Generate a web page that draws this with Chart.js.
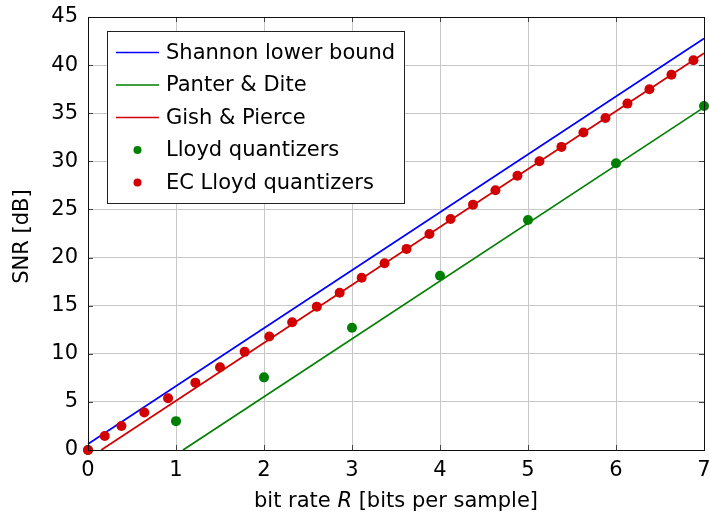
<!DOCTYPE html>
<html>
<head>
<meta charset="utf-8">
<script src="https://cdn.jsdelivr.net/npm/chart.js@4.4.1/dist/chart.umd.min.js"></script>
<style>
  html, body { margin: 0; padding: 0; background: #fff; }
  #wrap { width: 709px; height: 518px; position: relative; }
</style>
</head>
<body>
<div id="wrap"><canvas id="snrChart"></canvas></div>
<script>
// theory curves (straight lines, end points)
const shannonR = [0, 7];
const shannonSNR = [0.63, 42.77];
const panterR = [1.08, 7];
const panterSNR = [0, 35.61];
const gishR = [0.15, 7];
const gishSNR = [0, 41.24];

// Lloyd quantizers
const lloydR = [0, 1, 2, 3, 4, 5, 6, 7];
const lloydSNR = [0, 3.0, 7.55, 12.7, 18.1, 23.9, 29.8, 35.75];

// entropy-coded Lloyd quantizers
const ecR = [0, 0.19, 0.38, 0.64, 0.91, 1.22, 1.5, 1.78, 2.06, 2.32, 2.6, 2.86, 3.11, 3.37,
  3.62, 3.88, 4.12, 4.375, 4.63, 4.88, 5.13, 5.38, 5.63, 5.88, 6.13, 6.38, 6.63, 6.88];
const ecSNR = [0, 1.45, 2.5, 3.9, 5.37, 7.0, 8.6, 10.2, 11.8, 13.27, 14.9, 16.35, 17.9, 19.4,
  20.9, 22.45, 24.0, 25.5, 27.0, 28.5, 30.0, 31.5, 33.0, 34.5, 36.0, 37.5, 39.0, 40.5];

const xTicks = [0, 1, 2, 3, 4, 5, 6, 7];
const yTicks = [0, 5, 10, 15, 20, 25, 30, 35, 40, 45];

const FONT = '"DejaVu Sans", sans-serif';
const BLUE = 'rgb(0,0,255)';
const GREEN = 'rgb(0,128,0)';
const RED = 'rgb(210,0,0)';

const toPts = (xs, ys) => xs.map((x, i) => ({ x: x, y: ys[i] }));

const legendItems = [
  { label: 'Shannon lower bound', color: BLUE, kind: 'line' },
  { label: 'Panter & Dite', color: GREEN, kind: 'line' },
  { label: 'Gish & Pierce', color: RED, kind: 'line' },
  { label: 'Lloyd quantizers', color: GREEN, kind: 'dot' },
  { label: 'EC Lloyd quantizers', color: RED, kind: 'dot' }
];

// frame, inner tick marks, legend box and axis titles
const decorations = {
  id: 'decorations',
  afterDatasetsDraw(chart) {
    const ctx = chart.ctx;
    const a = chart.chartArea;
    const xs = chart.scales.x, ys = chart.scales.y;
    ctx.save();
    ctx.strokeStyle = '#444';
    ctx.lineWidth = 1;
    ctx.beginPath();
    xTicks.forEach(v => {
      const px = Math.round(xs.getPixelForValue(v)) + 0.5;
      ctx.moveTo(px, a.bottom); ctx.lineTo(px, a.bottom - 5);
      ctx.moveTo(px, a.top); ctx.lineTo(px, a.top + 5);
    });
    yTicks.forEach(v => {
      const py = Math.round(ys.getPixelForValue(v)) + 0.5;
      ctx.moveTo(a.left, py); ctx.lineTo(a.left + 5, py);
      ctx.moveTo(a.right, py); ctx.lineTo(a.right - 5, py);
    });
    ctx.stroke();
    ctx.strokeStyle = '#111';
    ctx.strokeRect(Math.round(a.left) + 0.5, Math.round(a.top) + 0.5,
      Math.round(a.right - a.left), Math.round(a.bottom - a.top));

    // legend
    const bx = 107.5, by = 31.5, bw = 297, bh = 172;
    ctx.fillStyle = '#fff';
    ctx.fillRect(bx, by, bw, bh);
    ctx.strokeStyle = '#222';
    ctx.strokeRect(bx, by, bw, bh);
    ctx.font = '21px ' + FONT;
    ctx.textBaseline = 'middle';
    ctx.textAlign = 'left';
    legendItems.forEach((it, i) => {
      const y = 52.5 + i * 32.5;
      if (it.kind === 'line') {
        ctx.strokeStyle = it.color;
        ctx.lineWidth = 1.6;
        ctx.beginPath();
        ctx.moveTo(116, y); ctx.lineTo(159, y);
        ctx.stroke();
      } else {
        ctx.fillStyle = it.color;
        ctx.beginPath();
        ctx.arc(137.5, y, 4, 0, Math.PI * 2);
        ctx.fill();
      }
      ctx.fillStyle = '#000';
      ctx.fillText(it.label, 166, y + 1);
    });

    // x title with italic R
    const parts = [['bit rate ', 'normal'], ['R', 'italic'], [' [bits per sample]', 'normal']];
    let total = 0;
    parts.forEach(p => { ctx.font = p[1] + ' 21px ' + FONT; total += ctx.measureText(p[0]).width; });
    let x = (a.left + a.right) / 2 - total / 2;
    ctx.textBaseline = 'alphabetic';
    ctx.fillStyle = '#000';
    parts.forEach(p => {
      ctx.font = p[1] + ' 21px ' + FONT;
      ctx.fillText(p[0], x, 507);
      x += ctx.measureText(p[0]).width;
    });

    // y title
    ctx.translate(28, (a.top + a.bottom) / 2 + 3);
    ctx.rotate(-Math.PI / 2);
    ctx.font = '21px ' + FONT;
    ctx.textAlign = 'center';
    ctx.fillText('SNR [dB]', 0, 0);
    ctx.restore();
  }
};

new Chart(document.getElementById('snrChart'), {
  type: 'scatter',
  data: {
    datasets: [
      { label: 'Shannon lower bound', data: toPts(shannonR, shannonSNR), showLine: true, order: 2,
        borderColor: BLUE, borderWidth: 1.7, pointRadius: 0, clip: false },
      { label: 'Panter & Dite', data: toPts(panterR, panterSNR), showLine: true, order: 2,
        borderColor: GREEN, borderWidth: 1.7, pointRadius: 0, clip: false },
      { label: 'Gish & Pierce', data: toPts(gishR, gishSNR), showLine: true, order: 2,
        borderColor: RED, borderWidth: 1.7, pointRadius: 0, clip: false },
      { label: 'Lloyd quantizers', data: toPts(lloydR, lloydSNR), showLine: false, order: 1,
        backgroundColor: GREEN, borderWidth: 0, pointRadius: 5, clip: false },
      { label: 'EC Lloyd quantizers', data: toPts(ecR, ecSNR), showLine: false, order: 0,
        backgroundColor: RED, borderWidth: 0, pointRadius: 5, clip: false }
    ]
  },
  options: {
    responsive: true,
    maintainAspectRatio: false,
    animation: false,
    layout: { padding: { top: 17, right: 5, left: 0, bottom: 0 } },
    plugins: { legend: { display: false }, tooltip: { enabled: false } },
    scales: {
      x: {
        type: 'linear', min: 0, max: 7,
        afterFit(scale) { scale.height = 68; scale.paddingLeft = 0; scale.paddingRight = 0; },
        afterBuildTicks(scale) { scale.ticks = xTicks.map(v => ({ value: v })); },
        grid: { color: '#c8c8c8', drawTicks: false },
        border: { display: false },
        ticks: { color: '#000', padding: 8, font: { family: FONT, size: 21 } }
      },
      y: {
        type: 'linear', min: 0, max: 45,
        afterFit(scale) { scale.width = 88; scale.paddingTop = 0; scale.paddingBottom = 0; },
        afterBuildTicks(scale) { scale.ticks = yTicks.map(v => ({ value: v })); },
        grid: { color: '#c8c8c8', drawTicks: false },
        border: { display: false },
        ticks: { color: '#000', padding: 10, font: { family: FONT, size: 21 } }
      }
    }
  },
  plugins: [decorations]
});
</script>
</body>
</html>
